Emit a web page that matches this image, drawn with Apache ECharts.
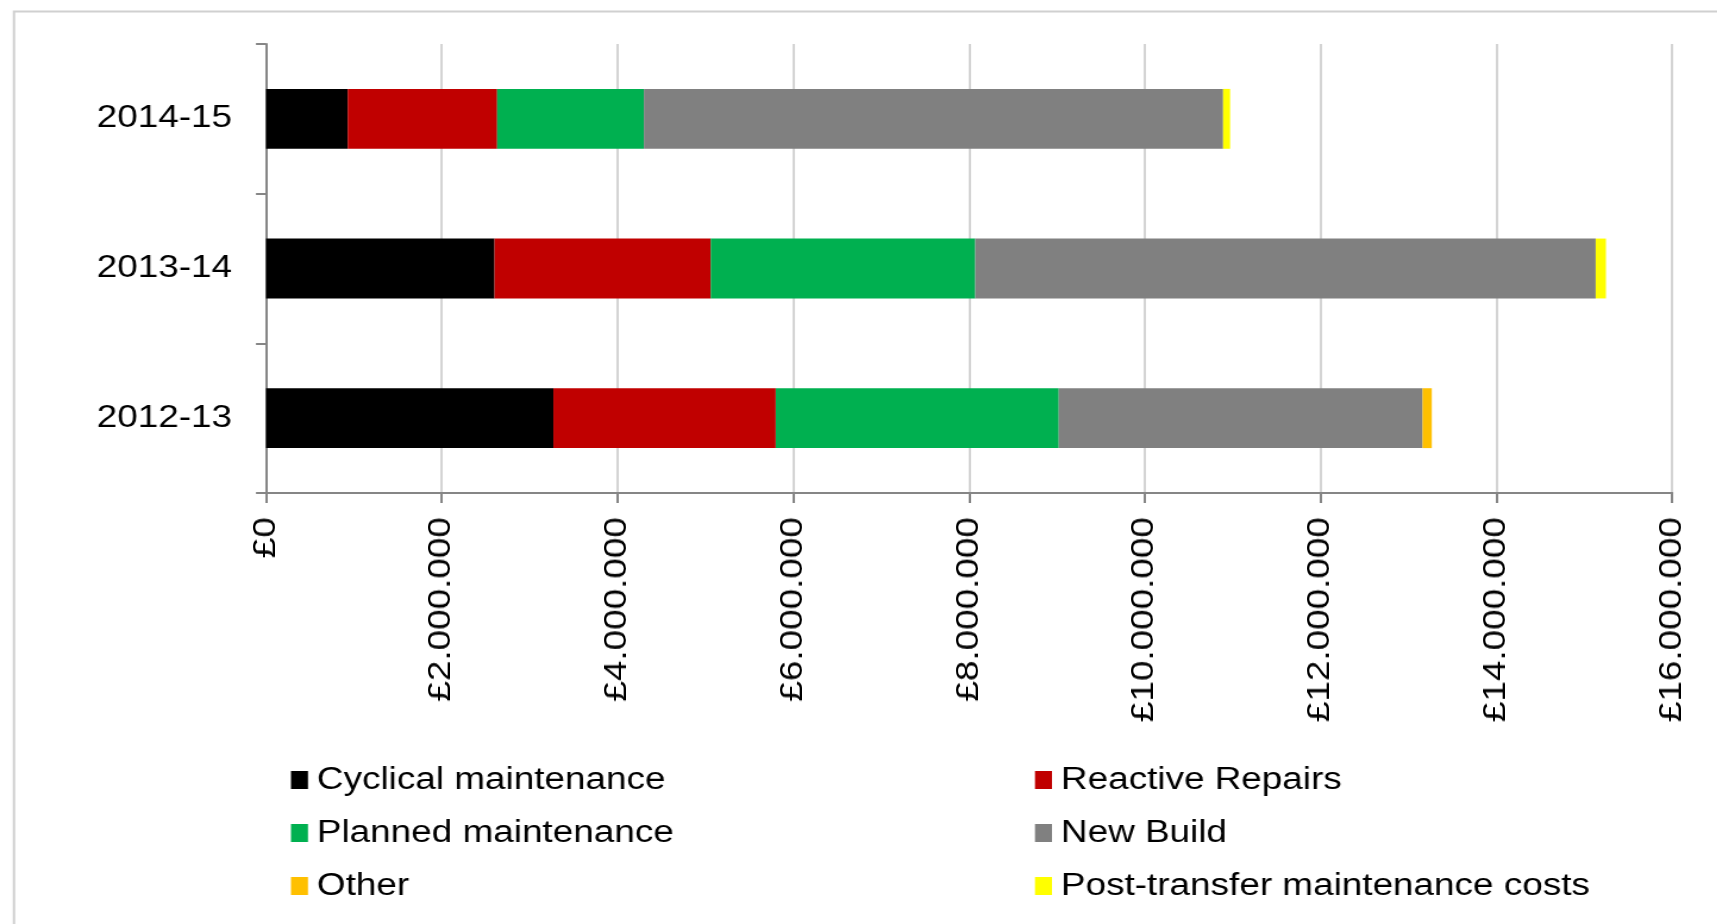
<!DOCTYPE html>
<html>
<head>
<meta charset="utf-8">
<title>Maintenance and build spend by year</title>
<script src="https://cdn.jsdelivr.net/npm/echarts@6/dist/echarts.min.js"></script>
<style>
  html, body { margin: 0; padding: 0; background: #ffffff; overflow: hidden; }
  #frame { position: relative; width: 1717px; height: 924px; overflow: hidden; background: #ffffff; }
  /* Main chart: laid out in a narrower box and widened to full width,
     giving the broad lettering of the printed figure. */
  #chart { position: absolute; left: 0; top: 0; height: 924px; transform-origin: 0 0; }
  /* Value-axis labels: same widening, applied along the rotated text. */
  #valueLabels { position: absolute; left: 0; top: 0; width: 1717px; height: 924px; }
</style>
</head>
<body>
<div id="frame">
  <div id="chart"></div>
  <div id="valueLabels"></div>
</div>
<script>
// Financial years, bottom to top on the category axis
const years = ['2012-13', '2013-14', '2014-15'];

// Spend per category (£)
const cyclical     = [3270000, 2600000, 930000];
const reactive     = [2530000, 2460000, 1700000];
const planned      = [3220000, 3010000, 1670000];
const newBuild     = [4140000, 7060000, 6590000];
const other        = [105000, 0, 0];
const postTransfer = [0, 116000, 80000];

const seriesNames = [
  'Cyclical maintenance', 'Reactive Repairs', 'Planned maintenance',
  'New Build', 'Other', 'Post-transfer maintenance costs'
];
const seriesValues = [cyclical, reactive, planned, newBuild, other, postTransfer];
const seriesColors = ['#000000', '#C00000', '#00B050', '#808080', '#FFC000', '#FFFF00'];

// Value axis range
const axisMin = 0;
const axisMax = 16000000;
const axisStep = 2000000;

const FONT = '"Liberation Sans", Arial, sans-serif';
const FONT_SIZE = 31;

// Text widening factor; positions below are given in final pixels
const STRETCH = 1.19;
const FULL_W = 1717;
const GRID = { left: 266, right: 45, top: 44, bottom: 431 };
const AXIS_Y = 924 - GRID.bottom;
const px = v => v / STRETCH;

const el = document.getElementById('chart');
el.style.width = px(FULL_W) + 'px';
el.style.transform = 'scaleX(' + STRETCH + ')';

const labelsEl = document.getElementById('valueLabels');
labelsEl.style.transformOrigin = '0 ' + AXIS_Y + 'px';
labelsEl.style.transform = 'scaleY(' + STRETCH + ')';

function poundLabel(v) {
  return '£' + String(Math.round(v)).replace(/\B(?=(\d{3})+(?!\d))/g, '.');
}

const legendCommon = {
  orient: 'vertical',
  icon: 'rect',
  itemWidth: px(17),
  itemHeight: 18,
  itemGap: 17,
  selectedMode: false,
  textStyle: { fontFamily: FONT, fontSize: FONT_SIZE, color: '#000000', lineHeight: 36, padding: [0, 0, 0, px(3)] }
};

const chart = echarts.init(el, null, { renderer: 'canvas' });
chart.setOption({
  animation: false,
  backgroundColor: '#ffffff',
  textStyle: { fontFamily: FONT },
  graphic: [{
    type: 'rect',
    left: px(11), top: 9,
    shape: { width: 1800, height: 1000 },
    style: { fill: 'none', stroke: '#d0d0d0', lineWidth: 2 },
    silent: true
  }],
  grid: { left: px(GRID.left), right: px(GRID.right), top: GRID.top, bottom: GRID.bottom, containLabel: false },
  legend: [
    Object.assign({}, legendCommon, { left: px(285), top: 757, data: [seriesNames[0], seriesNames[2], seriesNames[4]] }),
    Object.assign({}, legendCommon, { left: px(1029), top: 757, data: [seriesNames[1], seriesNames[3], seriesNames[5]] })
  ],
  xAxis: {
    type: 'value',
    min: axisMin,
    max: axisMax,
    interval: axisStep,
    axisLine: { show: true, lineStyle: { color: '#868686', width: 2 } },
    axisTick: { show: true, length: 10, lineStyle: { color: '#868686', width: 2 } },
    splitLine: { show: true, lineStyle: { color: '#d4d4d4', width: 2 } },
    axisLabel: { show: false }
  },
  yAxis: {
    type: 'category',
    data: years,
    axisLine: { show: true, lineStyle: { color: '#868686', width: 2 } },
    axisTick: { show: true, length: px(10), lineStyle: { color: '#868686', width: 2 } },
    axisLabel: { margin: px(34), fontSize: FONT_SIZE, color: '#000000', fontFamily: FONT }
  },
  series: seriesNames.map((name, i) => ({
    name: name,
    type: 'bar',
    stack: 'total',
    barWidth: '40%',
    data: seriesValues[i],
    itemStyle: { color: seriesColors[i] },
    emphasis: { disabled: true }
  }))
});

// Rotated £ labels of the value axis, on the same scale as the bars
const labelsChart = echarts.init(labelsEl, null, { renderer: 'canvas' });
labelsChart.setOption({
  animation: false,
  backgroundColor: 'transparent',
  grid: { left: GRID.left, right: GRID.right, top: GRID.top, bottom: GRID.bottom, containLabel: false },
  xAxis: {
    type: 'value',
    min: axisMin,
    max: axisMax,
    interval: axisStep,
    axisLine: { show: false },
    axisTick: { show: false },
    splitLine: { show: false },
    axisLabel: {
      rotate: 90,
      margin: 24 / STRETCH,
      fontSize: FONT_SIZE,
      color: '#000000',
      fontFamily: FONT,
      formatter: poundLabel
    }
  },
  yAxis: { type: 'category', data: years, show: false },
  series: []
});
</script>
</body>
</html>
